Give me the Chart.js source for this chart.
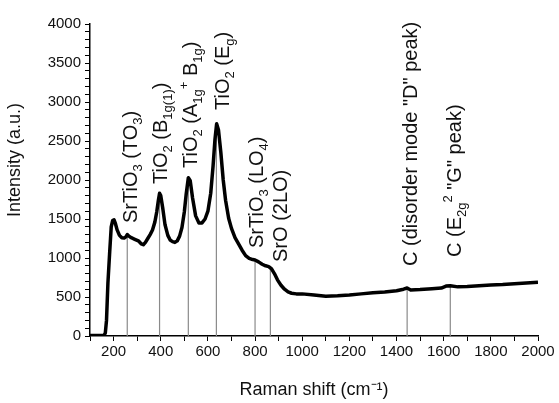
<!DOCTYPE html>
<html>
<head>
<meta charset="utf-8">
<script src="https://cdn.jsdelivr.net/npm/chart.js@4.4.1/dist/chart.umd.min.js"></script>
<style>
  html, body { margin: 0; padding: 0; background: #fff; }
  #wrap { width: 559px; height: 403px; }
</style>
</head>
<body>
<div id="wrap"><canvas id="chartRaman"></canvas></div>
<script>
// Raman spectrum
var ramanShift = [100, 130, 160, 165, 170, 176, 183, 190, 196, 202, 208, 215, 225, 235, 245, 252, 258, 265, 275, 290, 305, 318, 326, 335, 345, 355, 365, 375, 383, 390, 395, 400, 408, 418, 430, 440, 450, 460, 470, 480, 490, 500, 508, 517, 525, 535, 548, 562, 575, 588, 600, 612, 622, 630, 637, 645, 655, 665, 675, 688, 700, 715, 730, 745, 760, 775, 790, 800, 815, 830, 845, 858, 870, 882, 895, 910, 925, 940, 955, 975, 1000, 1050, 1100, 1150, 1200, 1250, 1300, 1350, 1400, 1430, 1445, 1460, 1500, 1550, 1590, 1610, 1628, 1660, 1700, 1750, 1800, 1850, 1900, 1950, 2000];
var intensity  = [5, 5, 10, 40, 200, 680, 1050, 1400, 1480, 1490, 1440, 1360, 1290, 1260, 1255, 1270, 1300, 1280, 1260, 1240, 1220, 1180, 1170, 1200, 1250, 1300, 1360, 1460, 1590, 1740, 1830, 1800, 1650, 1430, 1290, 1230, 1210, 1200, 1220, 1280, 1390, 1590, 1820, 2030, 1990, 1770, 1540, 1450, 1450, 1500, 1600, 1830, 2180, 2520, 2720, 2640, 2350, 2000, 1740, 1510, 1380, 1260, 1180, 1100, 1030, 995, 980, 975, 950, 920, 900, 890, 860, 800, 720, 650, 600, 565, 548, 540, 540, 525, 510, 515, 525, 540, 555, 565, 580, 600, 615, 590, 595, 605, 615, 640, 645, 630, 635, 645, 655, 660, 670, 680, 690];

// marked peaks: position, top of the grey marker line
var peakPos   = [258, 395, 517, 636, 800, 865, 1445, 1628];
var peakTop   = [1300, 1830, 2030, 2720, 975, 870, 615, 645];
// where each label sits (shift, intensity of its first letter) and its text
var labelAt   = [271, 395, 526, 660, 803, 905, 1456, 1644];
var labelBase = [1449, 1950, 2154, 2897, 1128, 949, 897, 1013];
var peakLabels = [
  "SrTiO_{3} (TO_{3})",
  "TiO_{2} (B_{1g(1)})",
  "TiO_{2} (A_{1g}^{+} B_{1g})",
  "TiO_{2} (E_{g})",
  "SrTiO_{3} (LO_{4})",
  "SrO (2LO)",
  "C (disorder mode \"D\" peak)",
  "C (E_{2g}^{2} \"G\" peak)"
];

var FONT = "'Liberation Sans', Arial, Helvetica, sans-serif";

// split "TiO_{2}" into [{t:"TiO",k:0},{t:"2",k:-1}]
function parseRich(str) {
  var out = [];
  var re = /([_^])\{([^}]*)\}/g;
  var last = 0, m;
  while ((m = re.exec(str)) !== null) {
    if (m.index > last) out.push({t: str.slice(last, m.index), k: 0});
    out.push({t: m[2], k: m[1] === "_" ? -1 : 1});
    last = re.lastIndex;
  }
  if (last < str.length) out.push({t: str.slice(last), k: 0});
  return out;
}

var peakLabelPlugin = {
  id: "peakLabels",
  afterDatasetsDraw: function(chart) {
    var ctx = chart.ctx;
    var xs = chart.scales.x, ys = chart.scales.y;
    var size = 20, small = 13;
    ctx.save();
    ctx.fillStyle = "#111";
    ctx.textBaseline = "alphabetic";
    for (var i = 0; i < peakLabels.length; i++) {
      var px = xs.getPixelForValue(labelAt[i]);
      var py = ys.getPixelForValue(labelBase[i]);
      ctx.save();
      ctx.translate(px, py);
      ctx.rotate(-Math.PI / 2);
      var segs = parseRich(peakLabels[i]);
      var cx = 0;
      var base = 7; // half cap height, so the letters sit centred on labelAt
      for (var j = 0; j < segs.length; j++) {
        var s = segs[j];
        if (s.k === 0) {
          ctx.font = size + "px " + FONT;
          ctx.fillText(s.t, cx, base);
        } else {
          ctx.font = small + "px " + FONT;
          ctx.fillText(s.t, cx, s.k < 0 ? base + 5 : base - 9);
        }
        cx += ctx.measureText(s.t).width;
      }
      ctx.restore();
    }
    ctx.restore();
  }
};

function createChart() {
  var spectrum = [];
  for (var i = 0; i < ramanShift.length; i++) {
    spectrum.push({x: ramanShift[i], y: intensity[i]});
  }

  var datasets = [{
    label: "Spectrum",
    data: spectrum,
    borderColor: "#000",
    borderWidth: 3.5,
    borderJoinStyle: "round",
    pointRadius: 0,
    tension: 0
  }];
  for (var k = 0; k < peakPos.length; k++) {
    datasets.push({
      label: "marker" + k,
      data: [{x: peakPos[k], y: 0}, {x: peakPos[k], y: peakTop[k]}],
      borderColor: "#8a8a8a",
      borderWidth: 1.2,
      pointRadius: 0
    });
  }

  var ctx = document.getElementById("chartRaman").getContext("2d");
  var config = {
    type: "line",
    data: { datasets: datasets },
    options: {
      responsive: true,
      maintainAspectRatio: false,
      animation: false,
      layout: { padding: { left: 0, right: 21, top: 24, bottom: 0 } },
      plugins: { legend: { display: false }, tooltip: { enabled: false } },
      scales: {
        x: {
          type: "linear",
          min: 100,
          max: 2000,
          border: { color: "#000", width: 1.5 },
          grid: { drawOnChartArea: false, drawTicks: true, tickLength: 5, color: "#000" },
          ticks: {
            stepSize: 100,
            autoSkip: false,
            maxRotation: 0,
            color: "#111",
            font: { family: FONT, size: 15 },
            padding: 2,
            callback: function(v) { return v % 200 === 0 ? String(v) : ""; }
          },
          title: {
            display: true,
            text: "Raman shift (cm\u207B\u00B9)",
            color: "#111",
            font: { family: FONT, size: 18 },
            padding: { top: 6, bottom: 2 }
          },
          afterFit: function(s) { s.height = 67; }
        },
        y: {
          min: 0,
          max: 4000,
          border: { color: "#000", width: 1.5 },
          grid: { drawOnChartArea: false, drawTicks: true, tickLength: 5, color: "#000" },
          ticks: {
            stepSize: 100,
            autoSkip: false,
            color: "#111",
            font: { family: FONT, size: 15 },
            padding: 4,
            callback: function(v) { return v % 500 === 0 ? String(v) : ""; }
          },
          title: {
            display: true,
            // leading spaces push the title up a little, as in the original
            text: "\u00A0\u00A0\u00A0\u00A0\u00A0\u00A0\u00A0\u00A0Intensity (a.u.)",
            color: "#111",
            font: { family: FONT, size: 18 },
            padding: { top: 4, bottom: 4 }
          },
          afterFit: function(s) { s.width = 90; }
        }
      }
    },
    plugins: [peakLabelPlugin]
  };
  new Chart(ctx, config);
}
createChart();
</script>
</body>
</html>
